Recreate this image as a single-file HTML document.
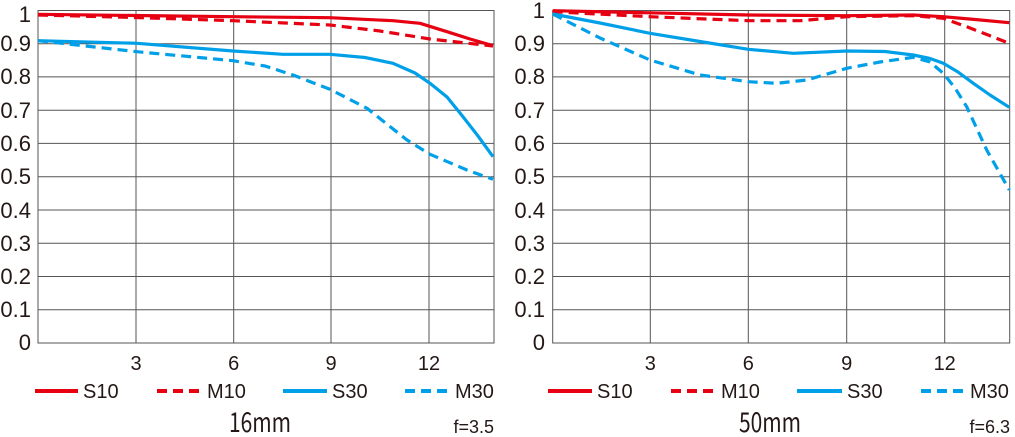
<!DOCTYPE html>
<html><head><style>
body{margin:0;background:#fff;width:1015px;height:437px;overflow:hidden}
svg{display:block}
text{font-family:"Liberation Sans",sans-serif;fill:#231815}
</style></head><body>
<svg width="1015" height="437" viewBox="0 0 1015 437" xmlns="http://www.w3.org/2000/svg">
<g stroke="#555" stroke-width="1" fill="none">
<!-- chart1 grid -->
<rect x="38" y="10.5" width="456" height="332.5"/>
<path d="M38 43.7H494M38 76.9H494M38 110.2H494M38 143.4H494M38 176.7H494M38 210H494M38 243.2H494M38 276.5H494M38 309.7H494"/>
<path d="M136 10.5V343M233.7 10.5V343M331 10.5V343M429 10.5V343"/>
<!-- chart2 grid -->
<rect x="552.7" y="10.5" width="457" height="332.5"/>
<path d="M552.7 43.7H1009.7M552.7 76.9H1009.7M552.7 110.2H1009.7M552.7 143.4H1009.7M552.7 176.7H1009.7M552.7 210H1009.7M552.7 243.2H1009.7M552.7 276.5H1009.7M552.7 309.7H1009.7"/>
<path d="M650.3 10.5V343M748.3 10.5V343M846.7 10.5V343M944.7 10.5V343"/>
</g>
<g font-size="22" text-anchor="end">
<text x="31" y="22">1</text><text x="31" y="51">0.9</text><text x="31" y="84">0.8</text><text x="31" y="118">0.7</text><text x="31" y="151">0.6</text><text x="31" y="184">0.5</text><text x="31" y="218">0.4</text><text x="31" y="251">0.3</text><text x="31" y="284">0.2</text><text x="31" y="317">0.1</text><text x="31" y="350">0</text>
<text x="545" y="18">1</text><text x="545" y="51">0.9</text><text x="545" y="84">0.8</text><text x="545" y="118">0.7</text><text x="545" y="151">0.6</text><text x="545" y="184">0.5</text><text x="545" y="218">0.4</text><text x="545" y="251">0.3</text><text x="545" y="284">0.2</text><text x="545" y="317">0.1</text><text x="545" y="350">0</text>
</g>
<g font-size="20" text-anchor="middle">
<text x="136" y="370">3</text><text x="233.7" y="370">6</text><text x="331" y="370">9</text><text x="429" y="370">12</text>
<text x="650.3" y="370">3</text><text x="748.3" y="370">6</text><text x="846.7" y="370">9</text><text x="944.7" y="370">12</text>
</g>
<g fill="none" stroke-width="3.2" stroke-linejoin="round" stroke-linecap="butt">
<polyline stroke="#e60012" points="38,14.3 135,15.5 233,16.7 330,17.7 393,20.7 420,23.3 447,31.7 470,39 493,45.7"/>
<polyline stroke="#e60012" stroke-dasharray="10,6" points="38,15 135,17.5 233,20.7 330,25 380,31 430,39 493,46"/>
<polyline stroke="#00a0e9" points="38,40.7 137,43.3 233,51 283,54.3 330,54.3 365,57.5 393,63.3 415,73 430,83.3 447,97 463,116.7 478,136 493,156.7"/>
<polyline stroke="#00a0e9" stroke-dasharray="10,6" points="38,40.7 137,51.7 233,60.7 265,66 293,75 330,89.3 367,108.3 407,140 430,154.3 467,170 493,179.3"/>
<polyline stroke="#e60012" points="552.7,10.7 650,12.8 748.3,15 846.7,15.7 913.3,15 943.3,16.7 975,19.5 1009.3,22.7"/>
<polyline stroke="#e60012" stroke-dasharray="10,6" points="552.7,11.7 650,16.7 748.3,20.7 800,20.7 846.7,16.7 913,15.7 943.3,18.3 970,28 1009.3,43.3"/>
<polyline stroke="#00a0e9" points="552.7,14 600,23 650,33.3 700,41.5 748.3,49.3 793.3,53.3 846.7,51 885,51.5 913.3,55 930,58.5 943.3,63.3 958,72 973.3,83.3 990,95 1009.3,107.3"/>
<polyline stroke="#00a0e9" stroke-dasharray="10,6" points="552.7,14 600,38 650,60 700,75 748.3,81.7 776.7,83.3 806.7,80 846.7,68.3 880,62 913.3,57.3 930,62 943.3,73.3 955,88 966.7,106.7 986.7,150 1009.3,190"/>
</g>
<g stroke-width="4">
<line x1="35" y1="391" x2="78" y2="391" stroke="#e60012"/>
<line x1="157" y1="391" x2="201" y2="391" stroke="#e60012" stroke-dasharray="10,6"/>
<line x1="283" y1="391" x2="327" y2="391" stroke="#00a0e9"/>
<line x1="405" y1="391" x2="450" y2="391" stroke="#00a0e9" stroke-dasharray="10,6"/>
<line x1="548" y1="391" x2="592" y2="391" stroke="#e60012"/>
<line x1="671" y1="391" x2="715" y2="391" stroke="#e60012" stroke-dasharray="10,6"/>
<line x1="797" y1="391" x2="842" y2="391" stroke="#00a0e9"/>
<line x1="921" y1="391" x2="966" y2="391" stroke="#00a0e9" stroke-dasharray="10,6"/>
</g>
<g font-size="20">
<text x="83" y="398">S10</text><text x="207" y="398">M10</text><text x="332" y="398">S30</text><text x="455" y="398">M30</text>
<text x="597" y="398">S10</text><text x="721" y="398">M10</text><text x="847" y="398">S30</text><text x="970" y="398">M30</text>
</g>
<text x="260" y="432" font-size="27" text-anchor="middle" textLength="62" lengthAdjust="spacingAndGlyphs" style="font-family:'Noto Sans CJK JP',sans-serif">16mm</text>
<text x="770" y="432" font-size="27" text-anchor="middle" textLength="62" lengthAdjust="spacingAndGlyphs" style="font-family:'Noto Sans CJK JP',sans-serif">50mm</text>
<text x="494" y="433" font-size="18" text-anchor="end">f=3.5</text>
<text x="1010" y="433" font-size="18" text-anchor="end">f=6.3</text>
</svg>
</body></html>
